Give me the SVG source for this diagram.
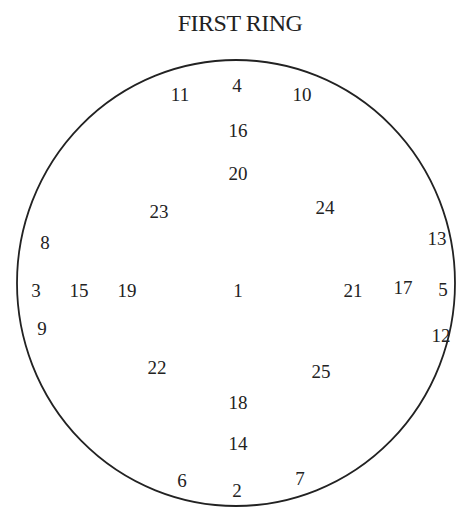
<svg xmlns="http://www.w3.org/2000/svg" width="457" height="508" viewBox="0 0 457 508">
<style>
.t{font-family:"Liberation Serif","Times New Roman",serif;font-size:19px;fill:#222;text-anchor:middle}
.title{font-family:"Liberation Serif","Times New Roman",serif;font-size:24px;fill:#222;text-anchor:middle}
.ring{fill:none;stroke:#222;stroke-width:1.8}
</style>
<rect width="457" height="508" fill="#fff"/>
<text class="title" x="240" y="31" letter-spacing="-0.5">FIRST RING</text>
<g id="connectors"></g>
<g id="ring"><ellipse class="ring" cx="236" cy="283" rx="219" ry="223"/></g>
<g id="n4"><text class="t" x="237" y="92">4</text></g>
<g id="n11"><text class="t" x="180" y="101">11</text></g>
<g id="n10"><text class="t" x="302" y="101">10</text></g>
<g id="n16"><text class="t" x="238" y="137">16</text></g>
<g id="n20"><text class="t" x="238" y="180">20</text></g>
<g id="n23"><text class="t" x="159" y="218">23</text></g>
<g id="n24"><text class="t" x="325" y="214">24</text></g>
<g id="n8"><text class="t" x="45" y="249">8</text></g>
<g id="n13"><text class="t" x="437" y="245">13</text></g>
<g id="n3"><text class="t" x="36" y="297">3</text></g>
<g id="n15"><text class="t" x="79" y="297">15</text></g>
<g id="n19"><text class="t" x="127" y="297">19</text></g>
<g id="n1"><text class="t" x="238" y="297">1</text></g>
<g id="n21"><text class="t" x="353" y="297">21</text></g>
<g id="n17"><text class="t" x="403" y="294">17</text></g>
<g id="n5"><text class="t" x="443" y="296">5</text></g>
<g id="n9"><text class="t" x="42" y="335">9</text></g>
<g id="n12"><text class="t" x="441" y="342">12</text></g>
<g id="n22"><text class="t" x="157" y="374">22</text></g>
<g id="n25"><text class="t" x="321" y="378">25</text></g>
<g id="n18"><text class="t" x="238" y="409">18</text></g>
<g id="n14"><text class="t" x="238" y="450">14</text></g>
<g id="n6"><text class="t" x="182" y="487">6</text></g>
<g id="n2"><text class="t" x="237" y="497">2</text></g>
<g id="n7"><text class="t" x="300" y="485">7</text></g>
</svg>
